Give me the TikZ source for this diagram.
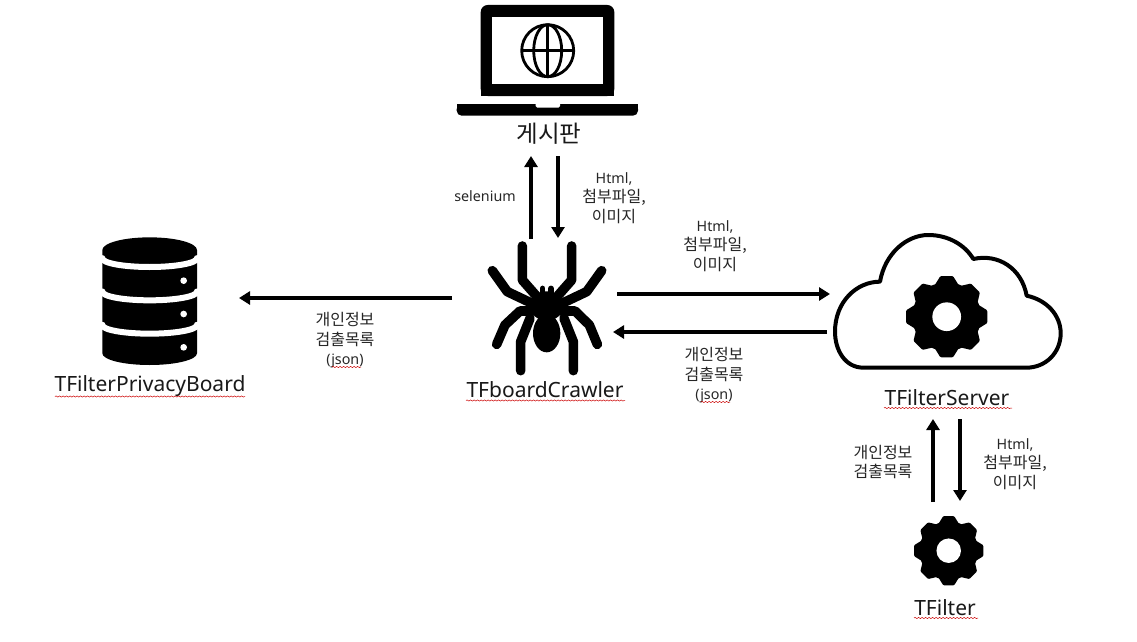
\documentclass[tikz,border=0pt]{standalone}
\usepackage{fontspec}
\setmainfont{Noto Sans}
\newfontfamily\kr[Scale=1.12]{Noto Sans CJK KR}
\usetikzlibrary{arrows.meta,decorations.pathmorphing}
\tikzset{
  flow/.style={line width=3.6pt,-{Triangle[length=11pt,width=13pt]}},
  lbl/.style={font=\fontsize{14.3}{19.5}\selectfont,align=center,inner sep=0pt,text=black!85},
  ttl/.style={font=\fontsize{21}{24}\selectfont,inner sep=0pt,text=black!90},
  leg/.style={line width=9.6pt,line cap=round,line join=round,black},
  squig/.style={red!80!black,line width=.5pt,decorate,decoration={snake,amplitude=.6pt,segment length=3.5pt}},
  zoomed/.style={x=0.33333pt,y=-0.33333pt}
}
\newcommand{\geariconx}[3]{%
  \begin{scope}[shift={(#1,#2)},x=#3pt,y=#3pt]
    \fill (0,0) circle (.84);
    \foreach \a in {0,45,...,315}{
      \fill[rotate=\a,rounded corners=1pt] (.74,-.31) -- (.99,-.155) -- (.99,.155) -- (.74,.31) -- cycle;
    }
    \fill[white] (0,0) circle (.35);
  \end{scope}}
\begin{document}
\begin{tikzpicture}[x=1pt,y=-1pt]
\useasboundingbox (0,0) rectangle (1137,642);
\fill[white] (0,0) rectangle (1137,642);

% laptop
\fill[rounded corners=7pt] (480.7,96) -- (480.7,5) -- (614.3,5) -- (614.3,96) -- cycle;
\fill[white] (492.3,16.7) rectangle (602.7,84);
\fill (480.7,90) rectangle (614.3,96);
\fill[rounded corners=5pt] (456.7,104) -- (456.7,115.7) -- (638,115.7) -- (638,104) -- cycle;
\fill (456.7,104) rectangle (638,109);
\fill[white,rounded corners=1.5pt] (535.7,102) -- (535.7,107.7) -- (560,107.7) -- (560,102) -- cycle;
\begin{scope}[line width=2.8pt]
  \draw (547.7,50.7) circle (26);
  \draw (547.7,50.7) ellipse (14 and 26);
  \draw (547.7,24.7) -- (547.7,76.7);
  \draw (521.7,50.7) -- (573.7,50.7);
\end{scope}
\node[ttl] (board) at (549,134) {\kr 게시판};

% spider
\begin{scope}[shift={(450,230)},zoomed]
  \draw[leg] (217,48) -- (217,150) -- (268,208);
  \draw[leg] (365,48) -- (365,150) -- (314,208);
  \draw[leg] (127,122) -- (172,185) -- (250,222);
  \draw[leg] (455,122) -- (410,185) -- (332,222);
  \draw[leg] (140,343) -- (165,285) -- (210,243) -- (250,243);
  \draw[leg] (442,343) -- (418,285) -- (375,243) -- (332,243);
  \draw[leg] (212,422) -- (212,335) -- (240,265);
  \draw[leg] (370,422) -- (370,335) -- (342,265);
  \draw[line width=5.5pt,line cap=round] (278,175) -- (278,195);
  \draw[line width=5.5pt,line cap=round] (303,175) -- (303,195);
  \fill (290,310) ellipse (41 and 57);
  \fill (290,228) ellipse (50 and 44);
\end{scope}
\node[ttl] (crawler) at (545,389.5) {TFboardCrawler};
\draw[squig] (466,400.5) -- (625,400.5);

% database
\begin{scope}[shift={(40,225)},zoomed]
  \fill (187,75) arc[start angle=180,end angle=360,x radius=142,y radius=38]
        -- (471,385) arc[start angle=0,end angle=180,x radius=142,y radius=35] -- cycle;
  \foreach \yy in {100,200,300}{
    \draw[white,line width=6pt] (180,\yy-2) -- (187,\yy)
      arc[start angle=180,end angle=0,x radius=142,y radius=26] -- (478,\yy-2);
    \fill[white] (431,\yy+67) circle (10);
  }
\end{scope}
\node[ttl] (privacy) at (150,386) {TFilterPrivacyBoard};
\draw[squig] (55,396.5) -- (245,396.5);

% cloud
\begin{scope}[shift={(820,225)},zoomed]
  \draw[line width=4pt,line join=round] (130,428) .. controls (75,428) and (45,375) .. (45,320)
    .. controls (45,230) and (110,170) .. (180,170)
    .. controls (195,85) and (260,30) .. (325,30)
    .. controls (385,30) and (435,60) .. (460,102)
    .. controls (535,85) and (605,130) .. (620,212)
    .. controls (680,225) and (722,270) .. (722,325)
    .. controls (722,385) and (675,428) .. (620,428) -- cycle;
\end{scope}
\geariconx{946.7}{316.7}{41}
\node[ttl] (server) at (947,397.5) {TFilterServer};
\draw[squig] (884,408) -- (1012,408);

% filter
\geariconx{948.7}{550.7}{35}
\node[ttl] (filter) at (945,607.5) {TFilter};
\draw[squig] (914,618) -- (978,618);

% connector ends
\coordinate (a1) at (531,239); \coordinate (a2) at (531,156);
\coordinate (b1) at (558,156); \coordinate (b2) at (558,238);
\coordinate (c1) at (452,298); \coordinate (c2) at (239,298);
\coordinate (d1) at (617,294); \coordinate (d2) at (830,294);
\coordinate (e1) at (827,332); \coordinate (e2) at (613,332);
\coordinate (f1) at (933,502); \coordinate (f2) at (933,419);
\coordinate (g1) at (960,419); \coordinate (g2) at (960,501);
\draw[flow] (a1) -- (a2);
\draw[flow] (b1) -- (b2);
\draw[flow] (c1) -- (c2);
\draw[flow] (d1) -- (d2);
\draw[flow] (e1) -- (e2);
\draw[flow] (f1) -- (f2);
\draw[flow] (g1) -- (g2);

% labels
\node[lbl] (l1) at (485,196) {selenium};
\node[lbl] (l2) at (614,198) {Html,\\{\kr 첨부파일,}\\{\kr 이미지}};
\node[lbl] (l3) at (715,246) {Html,\\{\kr 첨부파일,}\\{\kr 이미지}};
\node[lbl] (l4) at (345,340.5) {{\kr 개인정보}\\{\kr 검출목록}\\(json)};
\node[lbl] (l5) at (714,375.5) {{\kr 개인정보}\\{\kr 검출목록}\\(json)};
\node[lbl] (l6) at (883,462) {{\kr 개인정보}\\{\kr 검출목록}};
\node[lbl] (l7) at (1015,464) {Html,\\{\kr 첨부파일,}\\{\kr 이미지}};
\draw[squig] (332,367) -- (361,367);
\draw[squig] (701,402) -- (730,402);
\end{tikzpicture}
\end{document}
